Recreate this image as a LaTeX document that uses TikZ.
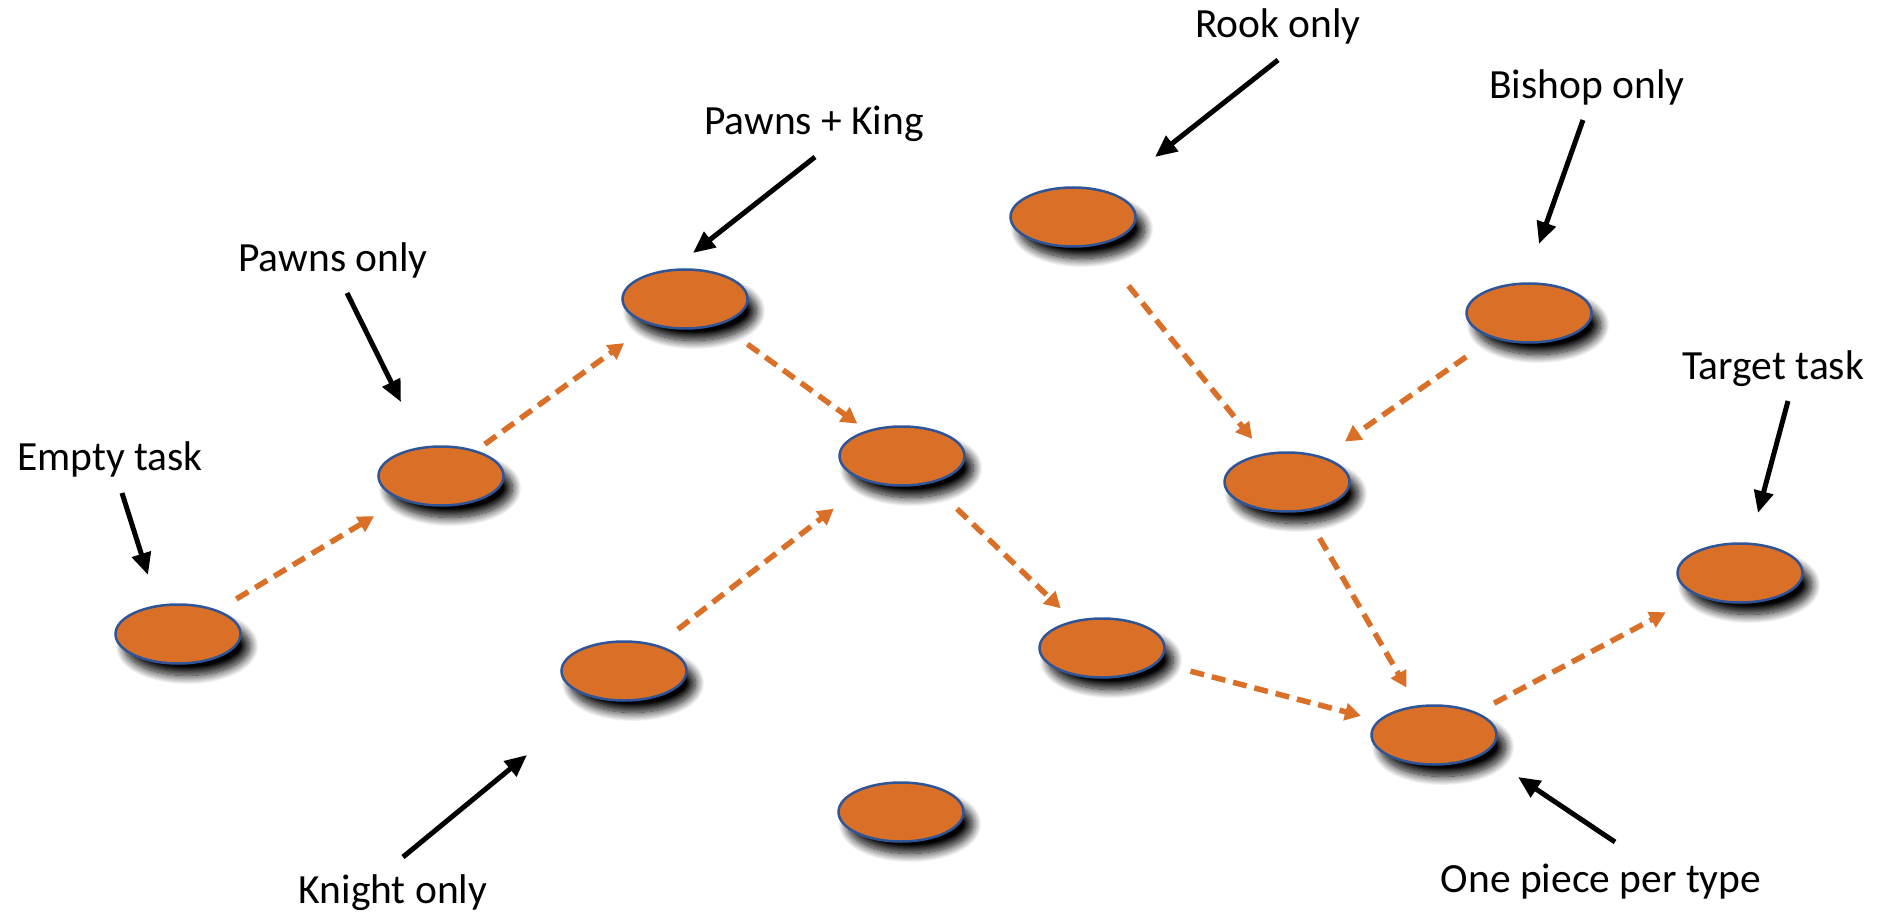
\documentclass[tikz,border=0pt]{standalone}
\usepackage{fontspec}
\setmainfont{Carlito}
\usetikzlibrary{arrows.meta,shapes.geometric,shadows.blur}

\definecolor{taskfill}{RGB}{218,112,40}
\definecolor{taskline}{RGB}{47,85,151}

\tikzset{
  task/.style={ellipse, draw=taskline, line width=2.5pt, fill=taskfill,
    minimum width=125pt, minimum height=59pt, inner sep=0pt, outer sep=0pt,
    blur shadow={shadow xshift=9pt, shadow yshift=-12pt, shadow blur radius=9pt,
      shadow opacity=100, shadow blur steps=16}},
  lbl/.style={font=\fontsize{41.5}{50}\selectfont, anchor=base, inner sep=0pt},
  pointer/.style={line width=5pt, draw=black, -{Triangle[length=22pt,width=19pt]}},
  flow/.style={line width=5.5pt, draw=taskfill, dash pattern=on 14pt off 8pt,
    -{Triangle[length=16pt,width=17pt]}},
}

\begin{document}
\begin{tikzpicture}[x=1pt, y=-1pt]
\useasboundingbox (0,0) rectangle (1888,917);

% tasks
\node[task] (empty)  at (178,634) {};
\node[task] (pawns)  at (441,476) {};
\node[task] (pk)     at (685,299) {};
\node[task] (mid)    at (902,456) {};
\node[task] (knight) at (624,671) {};
\node[task] (lower)  at (1102,648) {};
\node[task] (lone)   at (901,812) {};
\node[task] (rook)   at (1073,217) {};
\node[task] (bishop) at (1529,313) {};
\node[task] (merge)  at (1287,482) {};
\node[task] (onep)   at (1434,735) {};
\node[task] (target) at (1740,573) {};

% labels
\node[lbl] (lempty)  at (110,470) {Empty task};
\node[lbl] (lpawns)  at (333,272) {Pawns only};
\node[lbl] (lpk)     at (814,135) {Pawns + King};
\node[lbl] (lrook)   at (1278,38) {Rook only};
\node[lbl] (lbishop) at (1587,99) {Bishop only};
\node[lbl] (ltarget) at (1773,379) {Target task};
\node[lbl] (lknight) at (393,903) {Knight only};
\node[lbl] (lonep)   at (1601,892) {One piece per type};

% pointer ends
\coordinate (a1) at (122,493);  \coordinate (b1) at (148,575);
\coordinate (a2) at (347,293);  \coordinate (b2) at (401,402);
\coordinate (a3) at (815,157);  \coordinate (b3) at (693,253);
\coordinate (a4) at (1278,60);  \coordinate (b4) at (1155,157);
\coordinate (a5) at (1583,120); \coordinate (b5) at (1539,244);
\coordinate (a6) at (1788,401); \coordinate (b6) at (1758,513);
\coordinate (a7) at (403,857);  \coordinate (b7) at (527,755);
\coordinate (a8) at (1615,842); \coordinate (b8) at (1518,777);

\foreach \i in {1,...,8} \draw[pointer] (a\i) -- (b\i);

% transitions
\draw[flow, shorten <=23pt, shorten >=33pt] (empty) -- (pawns);
\draw[flow, shorten <=12pt, shorten >=33pt] (pawns) -- (pk);
\draw[flow, shorten <=35pt, shorten >=13pt] (pk) -- (mid);
\draw[flow, shorten <=27pt, shorten >=45pt] (knight) -- (mid);
\draw[flow, shorten <=38pt, shorten >=19pt] (mid) -- (lower);
\draw[flow, shorten <=35pt, shorten >=19pt] (lower) -- (onep);
\draw[flow, shorten <=53pt, shorten >=20pt] (rook) -- (merge);
\draw[flow, shorten <=34pt, shorten >=28pt] (bishop) -- (merge);
\draw[flow, shorten <=32pt, shorten >=22pt] (merge) -- (onep);
\draw[flow, shorten <=21pt, shorten >=37pt] (onep) -- (target);
\end{tikzpicture}
\end{document}
